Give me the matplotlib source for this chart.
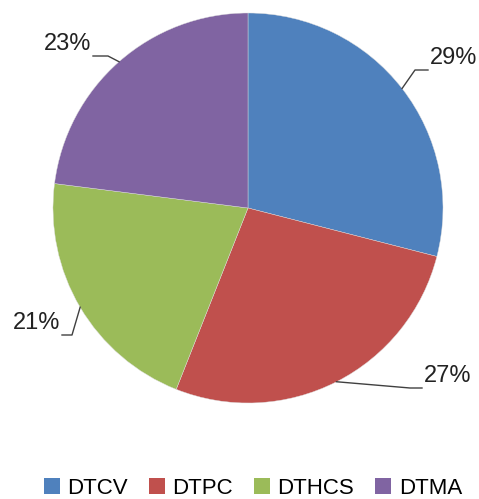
import numpy as np
import matplotlib.pyplot as plt
from matplotlib.patches import Patch

labels = ['DTCV', 'DTPC', 'DTHCS', 'DTMA']
values = [29, 27, 21, 23]
colors = ['#4F81BD', '#C0504D', '#9BBB59', '#8064A2']

W, H = 479, 499
cx, cy, R = 248, 208, 195

plt.rcParams['font.family'] = ['Liberation Sans', 'DejaVu Sans']

fig = plt.figure(figsize=(W / 100, H / 100), dpi=100)
ax = fig.add_axes([0, 0, 1, 1])

wedges, _ = ax.pie(values, colors=colors, startangle=90, counterclock=False,
                   center=(cx, H - cy), radius=R,
                   wedgeprops=dict(edgecolor='#dddddd', linewidth=0.3))
ax.set_xlim(0, W)
ax.set_ylim(0, H)
ax.set_aspect('equal')
ax.axis('off')

# leader lines: (elbow x, elbow y, end x) in pixels, text goes after end
leaders = [
    (415, 70, 428, 'left'),
    (410, 388, 422, 'left'),
    (72, 335, 62, 'right'),
    (108, 56, 93, 'right'),
]
for w, v, (ex, ey, tx, ha) in zip(wedges, values, leaders):
    mid = np.deg2rad((w.theta1 + w.theta2) / 2)
    sx = cx + R * np.cos(mid)
    sy = cy - R * np.sin(mid)
    ax.plot([sx, ex, tx], [H - sy, H - ey, H - ey], color='#404040', lw=1)
    off = 2 if ha == 'left' else -2
    ax.text(tx + off, H - ey + 1, f'{v}%', ha=ha, va='bottom',
            fontsize=17, color='#222222')

handles = [Patch(facecolor=c, edgecolor='none') for c in colors]
fig.legend(handles, labels, loc='center', ncol=4, frameon=False,
           bbox_to_anchor=(253 / W, 1 - 488 / H), fontsize=16,
           handlelength=0.7, handleheight=0.7, handletextpad=0.35,
           columnspacing=0.95, borderpad=0)

fig.savefig('out.png', dpi=100)
